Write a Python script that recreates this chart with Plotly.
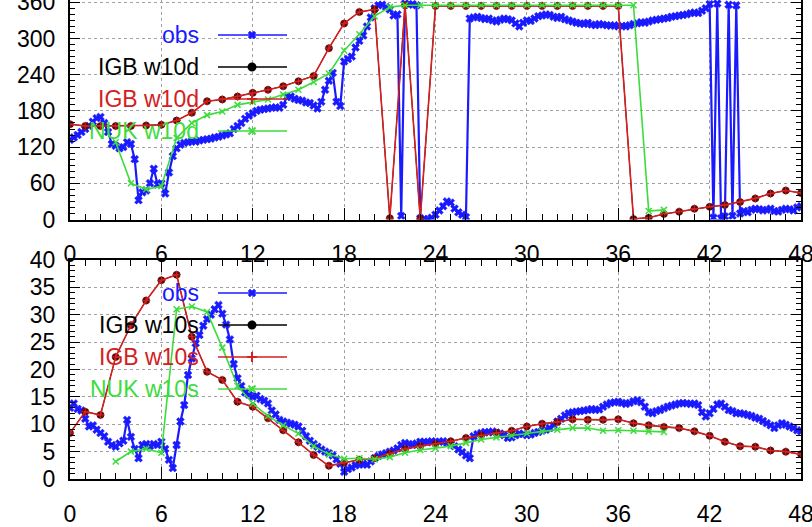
import plotly.graph_objects as go

# ---------------- data ----------------
# model output, hourly
igb_hours = list(range(0, 49))
igb_dir = [158, 155, 155, 155, 155, 156, 157, 164, 177, 196,
           199, 204, 210, 215, 221, 229, 238, 284, 325, 344,
           348, 2, 355, 1, 354, 354, 354, 354, 354, 354,
           354, 354, 354, 354, 354, 354, 354, 1, 3, 9,
           13, 18, 21, 24, 29, 35, 43, 48, 44]
igb_spd = [8.4, 12.3, 11.7, 22.3, 28.1, 32.6, 36.3, 37.3, 26.0, 19.6,
           18.1, 14.1, 13.2, 11.1, 8.9, 6.7, 4.4, 2.4, 3.0, 3.5,
           3.8, 4.6, 5.5, 6.0, 6.4, 6.9, 7.5, 8.0, 8.4, 8.8,
           9.6, 10.1, 10.4, 10.9, 10.8, 10.8, 10.9, 10.2, 9.8, 9.5,
           9.3, 8.7, 7.9, 6.8, 6.0, 5.9, 5.2, 5.0, 4.5]

nuk_hours = list(range(3, 40))
nuk_dir = [128, 60, 50, 55, 135, 160, 173, 179, 190, 195,
           199, 207, 215, 228, 242, 280, 307, 337, 352, 355,
           355, 355, 355, 355, 355, 355, 355, 355, 355, 355,
           355, 355, 355, 355, 355, 14, 16]
nuk_spd = [3.2, 5.0, 5.5, 4.8, 31.0, 31.5, 30.5, 24.0, 17.0, 13.8,
           11.5, 9.8, 8.3, 6.0, 4.5, 3.7, 3.8, 3.6, 4.0, 4.8,
           5.3, 5.6, 6.0, 6.6, 7.2, 7.6, 7.9, 8.3, 8.7, 9.0,
           9.3, 9.3, 8.8, 8.9, 8.8, 8.7, 8.6]

# observations, every 15 minutes
obs_dt = 0.25
obs_dir = [132, 136, 140, 145, 150, 155, 162, 168, 170, 160,
           145, 125, 122, 118, 120, 128, 125, 100, 32, 45,
           48, 60, 84, 58, 60, 43, 78, 105, 118, 124,
           127, 128, 130, 129, 131, 132, 133, 134, 136, 137,
           139, 141, 143, 150, 155, 160, 167, 172, 176, 180,
           182, 183, 184, 185, 186, 185, 190, 203, 204, 200,
           198, 197, 194, 193, 189, 184, 195, 215, 230, 243,
           195, 188, 262, 266, 270, 285, 296, 305, 320, 335,
           350, 355, 356, 352, 348, 338, 340, 6, 358, 356,
           357, 355, 2, 1, 0, 3, 8, 15, 22, 30,
           28, 18, 12, 8, 4, 333, 335, 336, 334, 332,
           333, 330, 328, 331, 333, 332, 330, 325, 320, 326,
           330, 329, 333, 337, 338, 340, 339, 336, 334, 336,
           332, 330, 328, 326, 325, 324, 326, 323, 322, 324,
           323, 322, 321, 322, 320, 321, 320, 322, 324, 325,
           327, 326, 328, 330, 331, 332, 333, 334, 336, 337,
           338, 339, 340, 342, 343, 342, 346, 350, 357, 3,
           358, 2, 5, 356, 6, 355, 10, 14, 12, 16,
           18, 17, 15, 16, 18, 14, 13, 16, 18, 17,
           15, 20, 22]
obs_spd = [13.0, 13.8, 12.8, 12.5, 11.0, 9.6, 9.8, 9.0, 8.4, 7.8,
           6.8, 6.2, 5.9, 6.5, 7.0, 10.8, 7.7, 5.5, 3.8, 6.2,
           6.4, 6.0, 6.4, 6.2, 6.8, 5.5, 3.5, 2.0, 6.2, 10.5,
           13.5, 19.0, 22.0, 24.8, 26.3, 28.0, 29.2, 30.0, 31.0, 31.8,
           30.2, 28.2, 25.5, 21.0, 18.4, 17.0, 15.8, 15.4, 15.0, 15.2,
           14.6, 14.3, 13.8, 12.5, 11.8, 10.8, 10.5, 10.3, 10.1, 9.9,
           9.6, 8.8, 7.8, 7.0, 6.4, 5.9, 5.4, 5.0, 4.7, 4.3,
           3.6, 2.8, 1.3, 1.8, 2.1, 2.5, 2.6, 2.8, 2.6, 3.2,
           3.8, 4.2, 4.5, 4.7, 5.0, 5.2, 5.6, 6.2, 6.6, 6.4,
           6.2, 6.5, 6.8, 6.8, 6.7, 6.9, 6.8, 6.8, 6.9, 6.6,
           6.4, 6.0, 5.4, 4.9, 4.3, 3.8, 7.8, 8.2, 8.4, 8.6,
           8.5, 8.7, 8.5, 8.3, 8.0, 7.5, 7.6, 8.0, 8.3, 8.2,
           8.0, 8.1, 8.4, 8.6, 8.8, 9.0, 9.3, 9.8, 10.5, 11.0,
           11.6, 12.0, 12.2, 12.3, 12.4, 12.5, 12.6, 12.8, 12.6, 12.7,
           13.2, 13.6, 13.9, 14.0, 14.1, 13.9, 13.7, 13.9, 14.2, 14.4,
           14.0, 13.2, 12.2, 12.0, 12.4, 12.6, 12.9, 13.2, 13.4, 13.6,
           13.8, 13.9, 13.8, 13.7, 13.8, 13.5, 12.2, 11.4, 12.0, 12.8,
           13.6, 13.8, 13.2, 12.6, 12.4, 12.0, 12.0, 11.9, 11.7, 11.5,
           11.2, 11.0, 10.6, 10.2, 9.8, 9.3, 9.8, 10.2, 9.9, 9.6,
           9.3, 8.9, 8.7]
obs_hours = [i * obs_dt for i in range(len(obs_dir))]

x_ticks = [0, 6, 12, 18, 24, 30, 36, 42, 48]

# ---------------- styling ----------------
W, H = 812, 527
FONT = "Liberation Sans, Arial, Helvetica, sans-serif"
BLUE = "#1a1aff"
RED = "#d42020"
GREEN = "#3ddc3d"
BLACK = "#000000"

def px_x(p):
    return p / W

def px_y(p):
    return 1 - p / H

X_DOM = [px_x(70), px_x(801)]
TOP_DOM = [px_y(219.5), 1.0]
BOT_DOM = [px_y(479), px_y(260)]

fig = go.Figure()

def add_panel(xa, ya, obs_y, igb_y, nuk_y):
    fig.add_trace(go.Scatter(
        x=obs_hours, y=obs_y, xaxis=xa, yaxis=ya, mode="lines+markers",
        line=dict(color=BLUE, width=2.2),
        marker=dict(symbol="x", size=7, color=BLUE,
                    line=dict(color=BLUE, width=0.5)),
        showlegend=False))
    fig.add_trace(go.Scatter(
        x=igb_hours, y=igb_y, xaxis=xa, yaxis=ya, mode="lines+markers",
        line=dict(color=BLACK, width=1),
        marker=dict(symbol="circle", size=7.5, color="#5a0c0c"),
        showlegend=False))
    fig.add_trace(go.Scatter(
        x=igb_hours, y=igb_y, xaxis=xa, yaxis=ya, mode="lines+markers",
        line=dict(color=RED, width=1.6),
        marker=dict(symbol="cross-thin", size=6, color=RED,
                    line=dict(color=RED, width=1)),
        showlegend=False))
    fig.add_trace(go.Scatter(
        x=nuk_hours, y=nuk_y, xaxis=xa, yaxis=ya, mode="lines+markers",
        line=dict(color=GREEN, width=1.6),
        marker=dict(symbol="x-thin", size=6, color=GREEN,
                    line=dict(color=GREEN, width=1.5)),
        showlegend=False))

add_panel("x", "y", obs_dir, igb_dir, nuk_dir)
add_panel("x2", "y2", obs_spd, igb_spd, nuk_spd)

# ---------------- key (label on the left, sample on the right) ----------------
key_entries = [
    ("obs", BLUE, "x", BLUE),
    ("IGB", BLACK, "circle", BLACK),
    ("IGB", RED, "cross-thin", RED),
    ("NUK", GREEN, "x-thin", GREEN),
]
annotations = []
shapes = []
for suffix, top_row in (("w10d", 35), ("w10s", 293)):
    for i, (name, col, sym, mcol) in enumerate(key_entries):
        yc = top_row + i * 32
        label = "obs" if name == "obs" else f"{name} {suffix}"
        annotations.append(dict(
            text=label, x=px_x(201), y=px_y(yc), xref="paper", yref="paper",
            xanchor="right", yanchor="middle", showarrow=False,
            font=dict(family=FONT, size=23, color=col)))
        shapes.append(dict(type="line", xref="paper", yref="paper",
                           x0=px_x(218), x1=px_x(287), y0=px_y(yc), y1=px_y(yc),
                           line=dict(color=col, width=1.6)))
        fig.add_trace(go.Scatter(
            x=[252], y=[yc], xaxis="x3", yaxis="y3", mode="markers",
            marker=dict(symbol=sym, size=7, color=mcol,
                        line=dict(color=mcol, width=2 if sym != "x" else 0.5)),
            showlegend=False, hoverinfo="skip"))

# tick label of the panel below, clipped at the page edge
annotations.append(dict(
    text="1025", x=px_x(56), y=px_y(521), xref="paper", yref="paper",
    xanchor="right", yanchor="top", showarrow=False,
    font=dict(family=FONT, size=23, color=BLACK)))

common_axis = dict(
    showline=True, linecolor=BLACK, linewidth=2, mirror="allticks",
    ticks="inside", tickcolor=BLACK, tickwidth=1,
    showgrid=True, gridcolor="#a0a0a0", griddash="dot", gridwidth=1,
    zeroline=False, ticklabeloverflow="allow",
    tickfont=dict(family=FONT, size=23, color=BLACK),
)

x_minor = dict(dtick=1, ticklen=6, ticks="inside", tickcolor=BLACK, showgrid=False)
xcommon = dict(common_axis, domain=X_DOM, range=[0, 48], tickmode="array",
               tickvals=x_ticks, ticklen=12, ticklabelstandoff=13,
               minor=x_minor)

fig.update_layout(
    width=W, height=H,
    margin=dict(l=0, r=0, t=0, b=0, autoexpand=False),
    paper_bgcolor="white", plot_bgcolor="rgba(0,0,0,0)",
    showlegend=False,
    # upper panel: bottom border only on x; its top edge sits just above the page,
    # so only the tick marks are drawn there (via xaxis4)
    xaxis=dict(xcommon, anchor="y", mirror=False),
    xaxis4=dict(domain=X_DOM, range=[0, 48], overlaying="x", side="top",
                anchor="y", showline=False, showgrid=False, zeroline=False,
                ticks="inside", tickmode="array", tickvals=x_ticks, ticklen=12,
                tickcolor=BLACK, showticklabels=False, minor=x_minor),
    yaxis=dict(common_axis, domain=TOP_DOM, anchor="x", range=[0, 363.8],
               tick0=0, dtick=60, ticklen=10, ticklabelstandoff=8,
               minor=dict(dtick=10, ticklen=5, ticks="inside", tickcolor=BLACK,
                          showgrid=False)),
    xaxis2=dict(xcommon, anchor="y2"),
    yaxis2=dict(common_axis, domain=BOT_DOM, anchor="x2", range=[0, 40],
                tick0=0, dtick=5, ticklen=10, ticklabelstandoff=8,
                minor=dict(dtick=1, ticklen=5, ticks="inside", tickcolor=BLACK,
                           showgrid=False)),
    xaxis3=dict(domain=[0, 1], range=[0, W], visible=False, anchor="y3"),
    yaxis3=dict(domain=[0, 1], range=[H, 0], visible=False, anchor="x3"),
    annotations=annotations,
    shapes=shapes,
)

fig.write_html("out.html")
